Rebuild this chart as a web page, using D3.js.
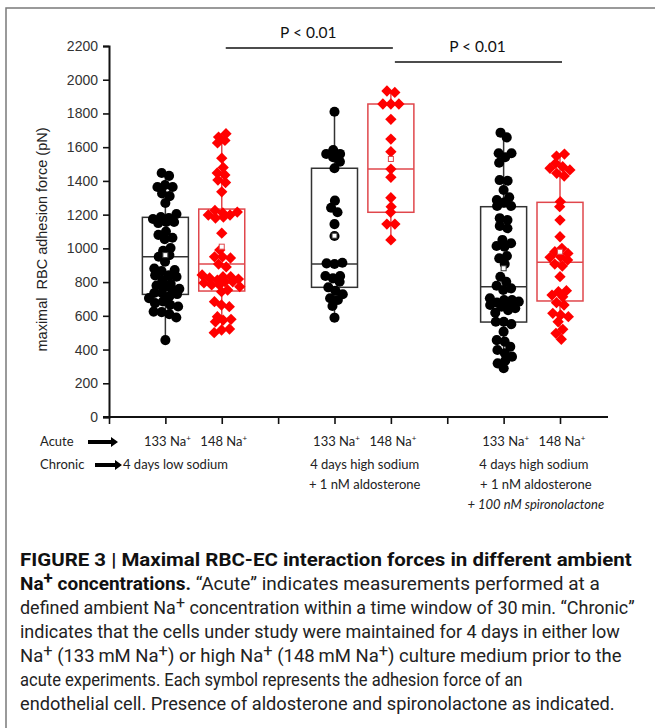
<!DOCTYPE html>
<html>
<head>
<meta charset="utf-8">
<script src="https://cdn.jsdelivr.net/npm/d3@7"></script>
<style>
  body { margin: 0; background: #fff; }
  svg { display: block; }
</style>
</head>
<body>
<div id="chart"></div>
<script>
// slots on the x axis (axis units) and acute labels
const slots = [1, 2, 4, 5, 7, 8];
const acuteLabels = ["133", "148", "133", "148", "133", "148"];
const groupColor = ["black", "red", "black", "red", "black", "red"];

// box statistics (pN)
const boxQ1 = [727, 747, 769, 1214, 563, 688];
const boxMedian = [950, 907, 907, 1470, 773, 917];
const boxQ3 = [1184, 1233, 1475, 1856, 1247, 1273];
const boxMean = [960, 1010, 1075, 1530, 882, 980];

// individual cells (pN)
const g1 = [1447, 1430, 1376, 1364, 1364, 1325, 1310, 1269, 1204, 1174, 1186, 1156, 1180, 1156,
  1150, 1063, 1080, 1100, 1055, 1002, 985, 960, 950, 921, 872, 880, 865, 832, 840, 840, 812,
  780, 760, 760, 790, 770, 729, 735, 735, 715, 705, 665, 655, 675, 685, 622, 590, 610, 625, 456];
const g2 = [1660, 1680, 1640, 1625, 1535, 1480, 1447, 1405, 1435, 1390, 1335, 1215, 1225, 1210,
  1180, 1186, 1198, 1198, 1090, 990, 950, 943, 950, 907, 890, 832, 812, 842, 832, 825, 818, 802,
  795, 783, 783, 802, 753, 773, 743, 664, 654, 684, 595, 575, 565, 579, 522, 516, 500];
const g3 = [1810, 1583, 1540, 1560, 1560, 1514, 1475, 1283, 1241, 1214, 1144, 1073, 911, 915, 907,
  822, 836, 836, 802, 749, 769, 728, 704, 694, 658, 589];
const g4 = [1933, 1925, 1856, 1856, 1856, 1765, 1648, 1573, 1470, 1421, 1300, 1247, 1214, 1144, 1144, 1050];
const g5 = [1686, 1658, 1564, 1540, 1564, 1508, 1405, 1401, 1346, 1303, 1287, 1271, 1251, 1251, 1179,
  1168, 1133, 1119, 1050, 1014, 1030, 1010, 955, 941, 907, 832, 802, 778, 763, 753, 678, 654, 645,
  694, 694, 674, 684, 664, 704, 634, 618, 565, 565, 551, 506, 456, 447, 417, 397, 358, 334, 378, 318, 289];
const g6 = [1559, 1547, 1504, 1445, 1429, 1484, 1475, 1465, 1277, 1247, 1168, 1069, 1000, 950, 980,
  970, 947, 931, 895, 907, 832, 743, 723, 749, 713, 678, 664, 605, 595, 615, 565, 520, 496, 461];
const groups = [g1, g2, g3, g4, g5, g6];

const yTicks = d3.range(0, 2201, 200);
const chronicLabels = [
  ["4 days low sodium"],
  ["4 days high sodium", "+ 1 nM aldosterone"],
  ["4 days high sodium", "+ 1 nM aldosterone", "+ 100 nM spironolactone"]
];
const pValues = ["P < 0.01", "P < 0.01"];
const pPairs = [[2, 5], [5, 8]];

// caption pieces: text and style flags (b = bold, s = superscript)
const captionLines = [
  [["FIGURE 3 | Maximal RBC-EC interaction forces in different ambient", "b"]],
  [["Na", "b"], ["+", "bs"], [" concentrations.", "b"], [" “Acute” indicates measurements performed at a", "r"]],
  [["defined ambient Na", "r"], ["+", "s"], [" concentration within a time window of 30\u2009min. “Chronic”", "r"]],
  [["indicates that the cells under study were maintained for 4 days in either low", "r"]],
  [["Na", "r"], ["+", "s"], [" (133\u2009mM Na", "r"], ["+", "s"], [") or high Na", "r"], ["+", "s"], [" (148\u2009mM Na", "r"], ["+", "s"], [") culture medium prior to the", "r"]],
  [["acute experiments. Each symbol represents the adhesion force of an", "r"]],
  [["endothelial cell. Presence of aldosterone and spironolactone as indicated.", "r"]]
];
// right end of each caption line in the reference
const captionEnds = [632, 600, 635, 620, 622, 523, 615];

const W = 655, H = 728;
const svg = d3.select("#chart").append("svg").attr("width", W).attr("height", H);

// frame
svg.append("rect").attr("x", 6).attr("y", 8).attr("width", 700).attr("height", 800)
  .attr("fill", "none").attr("stroke", "#7a7a7a").attr("stroke-width", 1.5);

const x = d3.scaleLinear().domain([0, 8]).range([109, 560]);
const y = d3.scaleLinear().domain([0, 2200]).range([417, 46]);
const boxW = 46;
const redLine = "#e0474c";

// y axis
const yAxis = svg.append("g").attr("transform", `translate(${x(0)},0)`)
  .call(d3.axisLeft(y).tickValues(yTicks).tickFormat(d3.format("d")).tickSize(6).tickPadding(5));
yAxis.select(".domain").attr("stroke", "#111").attr("stroke-width", 2);
yAxis.selectAll(".tick line").attr("stroke", "#111").attr("stroke-width", 1.6);
yAxis.selectAll(".tick text").attr("font-family", "Liberation Sans, Arial, sans-serif")
  .attr("font-size", 14).attr("fill", "#333");

// x axis
const xAxis = svg.append("g").attr("transform", `translate(0,${y(0)})`)
  .call(d3.axisBottom(x).tickValues(d3.range(0, 9)).tickSize(7).tickFormat(""));
xAxis.select(".domain").remove();
xAxis.selectAll(".tick line").attr("stroke", "#111").attr("stroke-width", 1.6);
svg.append("line").attr("x1", x(0) - 6).attr("x2", 608).attr("y1", y(0)).attr("y2", y(0))
  .attr("stroke", "#111").attr("stroke-width", 2);

// y title
svg.append("text")
  .attr("transform", `translate(47,${(y(0) + y(2200)) / 2 + 8}) rotate(-90)`)
  .attr("text-anchor", "middle").attr("font-family", "Liberation Sans, Arial, sans-serif")
  .attr("font-size", 14.5).attr("fill", "#222")
  .attr("xml:space", "preserve").text("maximal  RBC adhesion force (pN)");

// boxes
groups.forEach((vals, i) => {
  const cx = x(slots[i]);
  const col = groupColor[i] === "red" ? redLine : "#333";
  const g = svg.append("g");
  const [lo, hi] = d3.extent(vals);
  g.append("line").attr("x1", cx).attr("x2", cx).attr("y1", y(hi)).attr("y2", y(boxQ3[i]))
    .attr("stroke", col).attr("stroke-width", 1.5);
  g.append("line").attr("x1", cx).attr("x2", cx).attr("y1", y(boxQ1[i])).attr("y2", y(lo))
    .attr("stroke", col).attr("stroke-width", 1.5);
  g.append("rect").attr("x", cx - boxW / 2).attr("width", boxW)
    .attr("y", y(boxQ3[i])).attr("height", y(boxQ1[i]) - y(boxQ3[i]))
    .attr("fill", "none").attr("stroke", col).attr("stroke-width", 1.5);
  g.append("line").attr("x1", cx - boxW / 2).attr("x2", cx + boxW / 2)
    .attr("y1", y(boxMedian[i])).attr("y2", y(boxMedian[i]))
    .attr("stroke", col).attr("stroke-width", 1.5);
});

// points, spread as a beeswarm around the slot
groups.forEach((vals, i) => {
  const cx = x(slots[i]);
  const nodes = vals.map(v => ({ v, x: cx, y: y(v) }));
  const sim = d3.forceSimulation(nodes)
    .force("x", d3.forceX(cx).strength(0.07))
    .force("y", d3.forceY(d => y(d.v)).strength(1))
    .force("c", d3.forceCollide(4))
    .stop();
  for (let k = 0; k < 250; k++) sim.tick();
  nodes.forEach(d => { d.x = Math.max(cx - 25, Math.min(cx + 25, d.x)); d.y = y(d.v); });
  const red = groupColor[i] === "red";
  svg.append("g").selectAll("path").data(nodes).join("path")
    .attr("d", red ? d3.symbol(d3.symbolSquare, 64)() : d3.symbol(d3.symbolCircle, 80)())
    .attr("transform", d => `translate(${d.x},${d.y})${red ? " rotate(45)" : ""}`)
    .attr("fill", red ? "#ff0000" : "#000");
});

// mean markers
groups.forEach((vals, i) => {
  const cx = x(slots[i]);
  const col = groupColor[i] === "red" ? redLine : "#333";
  svg.append("rect").attr("x", cx - 2.5).attr("y", y(boxMean[i]) - 2.5)
    .attr("width", 5).attr("height", 5).attr("fill", "#fff").attr("stroke", col).attr("stroke-width", 1);
});

// significance bars
const labelFont = "Lato, Carlito, Calibri, sans-serif";
pPairs.forEach((p, i) => {
  const ly = i === 0 ? 48 : 62;
  svg.append("line").attr("x1", x(p[0]) + 4).attr("x2", x(p[1]) + 2)
    .attr("y1", ly).attr("y2", ly).attr("stroke", "#111").attr("stroke-width", 1.6);
  svg.append("text").attr("x", (x(p[0]) + x(p[1])) / 2 + 2).attr("y", ly - 10)
    .attr("text-anchor", "middle").attr("font-family", labelFont).attr("font-size", 15.5)
    .attr("fill", "#111").text(pValues[i]);
});

// x labels
const acuteY = 446;
svg.append("text").attr("x", 40).attr("y", acuteY).attr("font-family", labelFont)
  .attr("font-size", 13).attr("fill", "#222").text("Acute");
svg.append("text").attr("x", 40).attr("y", acuteY + 23).attr("font-family", labelFont)
  .attr("font-size", 13).attr("fill", "#222").text("Chronic");

function arrow(x0, x1, yy) {
  svg.append("path")
    .attr("d", `M${x0},${yy - 2}H${x1 - 7}V${yy - 5}L${x1},${yy}L${x1 - 7},${yy + 5}V${yy + 2}H${x0}Z`)
    .attr("fill", "#000");
}
arrow(88, 118, acuteY - 4);
arrow(95, 122, acuteY + 19);

acuteLabels.forEach((t, i) => {
  const tx = svg.append("text").attr("x", x(slots[i]) + 2).attr("y", acuteY)
    .attr("text-anchor", "middle").attr("font-family", labelFont).attr("font-size", 13)
    .attr("fill", "#222");
  tx.append("tspan").text(t + " Na");
  tx.append("tspan").attr("dy", -5).attr("font-size", 8).text("+");
});

chronicLabels.forEach((lines, gi) => {
  lines.forEach((t, li) => {
    const tx = svg.append("text").attr("font-family", labelFont).attr("font-size", 13)
      .attr("fill", "#222").attr("y", acuteY + 23 + li * 20).text(t);
    if (gi === 0) tx.attr("x", 123);
    else tx.attr("x", (x(slots[gi * 2]) + x(slots[gi * 2 + 1])) / 2 + 2 + (li > 0 && gi === 2 ? 2 : 0))
      .attr("text-anchor", "middle");
    if (li === 2) tx.attr("font-style", "italic");
  });
});

// caption, each line fitted to its width in the reference
const capFont = "Roboto, 'Liberation Sans', Arial, sans-serif";
captionLines.forEach((parts, li) => {
  const tx = svg.append("text").attr("x", 0).attr("y", 0)
    .attr("font-family", capFont).attr("font-size", 18).attr("fill", "#222")
    .attr("xml:space", "preserve");
  let raised = false;
  parts.forEach(([s, k]) => {
    const ts = tx.append("tspan").text(s);
    if (k.includes("b")) ts.attr("font-weight", "bold").attr("fill", "#111");
    const sup = k.includes("s");
    if (sup && !raised) ts.attr("dy", -6);
    if (!sup && raised) ts.attr("dy", 6);
    if (sup) ts.attr("font-size", 16);
    raised = sup;
  });
  const len = tx.node().getComputedTextLength();
  tx.attr("transform", `translate(20,${566 + li * 24}) scale(${(captionEnds[li] - 20) / len},1)`);
});
</script>
</body>
</html>
